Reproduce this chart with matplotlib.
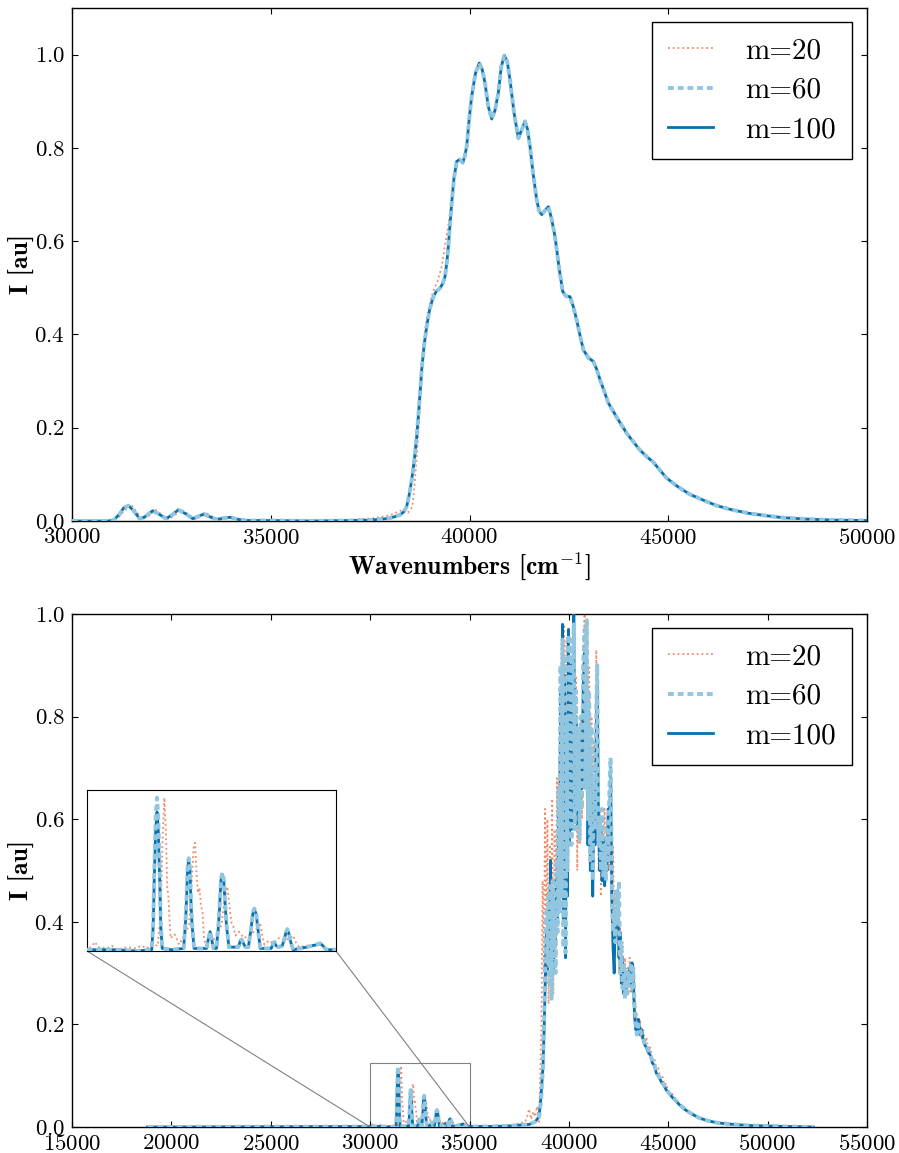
import matplotlib
matplotlib.use('Agg')
import matplotlib.pyplot as plt
from mpl_toolkits.axes_grid1.inset_locator import mark_inset

# ---------------- data ----------------
labels = ['m=20', 'm=60', 'm=100']
colors = ['#f08a68', '#92c5de', '#0571b0']

# top panel (broad spectrum); m=60 and m=100 coincide
top_w = [30000, 30900, 31050, 31200, 31300, 31420, 31550, 31711, 31850, 32030,
         32200, 32365, 32500, 32675, 32850, 33036, 33180, 33321, 33470, 33623,
         33800, 33975, 34200, 34400, 35000, 36000, 37000, 37500, 37800, 38000,
         38252, 38350, 38420, 38480, 38546, 38610, 38672, 38735, 38797, 38860,
         38923, 39000, 39090, 39170, 39258, 39330, 39384, 39430, 39468, 39510,
         39552, 39610, 39678, 39750, 39829, 39880, 39929, 39990, 40055, 40150,
         40247, 40320, 40390, 40470, 40558, 40640, 40725, 40800, 40876, 40950,
         41019, 41120, 41229, 41310, 41396, 41460, 41522, 41600, 41690, 41750,
         41816, 41900, 41983, 42060, 42151, 42250, 42344, 42430, 42528, 42610,
         42696, 42780, 42864, 42990, 43115, 43200, 43283, 43390, 43493, 43720,
         43955, 44120, 44289, 44460, 44625, 44800, 44960, 45250, 45547, 45900,
         46218, 46600, 47057, 47500, 47895, 48500, 49153, 50000]
top_i = [0.0, 0.0, 0.002, 0.015, 0.028, 0.033, 0.022, 0.004, 0.010, 0.022,
         0.014, 0.005, 0.012, 0.024, 0.016, 0.005, 0.010, 0.015, 0.009, 0.003,
         0.006, 0.008, 0.003, 0.001, 0.001, 0.0, 0.001, 0.002, 0.004, 0.006,
         0.013, 0.020, 0.031, 0.055, 0.088, 0.130, 0.181, 0.250, 0.324, 0.378,
         0.417, 0.455, 0.481, 0.493, 0.499, 0.510, 0.524, 0.555, 0.589, 0.636,
         0.682, 0.735, 0.771, 0.775, 0.768, 0.782, 0.803, 0.860, 0.911, 0.960,
         0.982, 0.968, 0.939, 0.890, 0.862, 0.880, 0.918, 0.975, 0.998, 0.985,
         0.946, 0.875, 0.821, 0.838, 0.857, 0.840, 0.803, 0.745, 0.689, 0.665,
         0.657, 0.666, 0.674, 0.650, 0.610, 0.545, 0.492, 0.482, 0.481, 0.460,
         0.431, 0.398, 0.367, 0.350, 0.342, 0.325, 0.303, 0.278, 0.253, 0.220,
         0.188, 0.170, 0.152, 0.138, 0.126, 0.108, 0.092, 0.073, 0.057, 0.044,
         0.033, 0.024, 0.016, 0.011, 0.007, 0.004, 0.002, 0.001]

top20_w = [30000, 31000, 31150, 31300, 31480, 31620, 31780, 31950, 32100, 32280,
           32440, 32600, 32750, 32930, 33100, 33260, 33400, 33560, 33720, 33900,
           34050, 34300, 35000, 36000, 37000, 37600, 38000, 38200, 38350, 38450,
           38560, 38620, 38700, 38760, 38830, 38900, 38960, 39040, 39120, 39200,
           39300, 39400, 39480, 39552, 39610, 39678, 39750, 39829, 39880, 39929,
           39990, 40055, 40150, 40247, 40320, 40390, 40470, 40558, 40640, 40725,
           40800, 40876, 40950, 41019, 41120, 41229, 41310, 41396, 41460, 41522,
           41600, 41690, 41750, 41816, 41900, 41983, 42060, 42151, 42250, 42344,
           42430, 42528, 42610, 42696, 42780, 42864, 42990, 43115, 43200, 43283,
           43390, 43493, 43720, 43955, 44120, 44289, 44460, 44625, 44800, 44960,
           45250, 45547, 45900, 46218, 46600, 47057, 47500, 47895, 48500, 49153,
           50000]
top20_i = [0.0, 0.0, 0.006, 0.020, 0.036, 0.020, 0.004, 0.012, 0.024, 0.012,
           0.004, 0.013, 0.025, 0.014, 0.004, 0.010, 0.016, 0.008, 0.003, 0.006,
           0.008, 0.002, 0.001, 0.001, 0.002, 0.006, 0.012, 0.020, 0.025, 0.018,
           0.030, 0.080, 0.170, 0.260, 0.350, 0.420, 0.450, 0.480, 0.500, 0.515,
           0.545, 0.600, 0.640, 0.690, 0.740, 0.770, 0.776, 0.770, 0.785, 0.808,
           0.865, 0.915, 0.962, 0.980, 0.970, 0.945, 0.895, 0.866, 0.882, 0.920,
           0.972, 0.995, 0.986, 0.950, 0.880, 0.825, 0.840, 0.855, 0.842, 0.806,
           0.748, 0.692, 0.668, 0.660, 0.667, 0.674, 0.652, 0.613, 0.548, 0.495,
           0.484, 0.482, 0.462, 0.433, 0.400, 0.369, 0.352, 0.343, 0.327, 0.305,
           0.280, 0.255, 0.222, 0.190, 0.171, 0.153, 0.139, 0.127, 0.109, 0.093,
           0.074, 0.058, 0.045, 0.034, 0.025, 0.017, 0.011, 0.007, 0.004, 0.002,
           0.001]

# bottom panel (narrow broadening), m=100
bot100_w = [18800, 30000, 30600, 31000, 31300, 31330, 31350, 31380, 31406, 31430,
            31460, 31480, 31510, 31700, 31940, 31975, 31995, 32020, 32042, 32065,
            32090, 32110, 32150, 32400, 32440, 32470, 32500, 32540, 32600, 32640,
            32660, 32690, 32718, 32745, 32780, 32800, 32850, 33040, 33080, 33107,
            33140, 33180, 33240, 33290, 33330, 33361, 33395, 33435, 33480, 33700,
            33740, 33762, 33800, 33840, 33920, 33960, 34000, 34023, 34050, 34090,
            34140, 34411, 34620, 34679, 34740, 34800, 36000, 37000, 37600, 38000,
            38300, 38500, 38600, 38700, 38760, 38820, 38870, 38920, 38970, 39020,
            39080, 39130, 39180, 39230, 39280, 39330, 39380, 39430, 39480, 39530,
            39580, 39630, 39680, 39730, 39780, 39830, 39880, 39930, 39980, 40030,
            40080, 40130, 40190, 40250, 40300, 40360, 40420, 40480, 40540, 40600,
            40660, 40720, 40790, 40850, 40900, 40960, 41020, 41080, 41140, 41200,
            41260, 41320, 41380, 41430, 41490, 41550, 41610, 41670, 41730, 41800,
            41860, 41920, 41980, 42040, 42100, 42160, 42220, 42280, 42340, 42400,
            42460, 42520, 42580, 42640, 42700, 42760, 42820, 42880, 42940, 43000,
            43060, 43120, 43180, 43240, 43300, 43360, 43420, 43500, 43580, 43660,
            43740, 43820, 43900, 44000, 44100, 44200, 44300, 44400, 44500, 44600,
            44700, 44800, 44900, 45000, 45200, 45400, 45600, 45800, 46000, 46300,
            46600, 47000, 47500, 48000, 49000, 50000, 51000, 52300]
bot100_i = [0.0, 0.001, 0.001, 0.0, 0.001, 0.020, 0.055, 0.095, 0.108, 0.095,
            0.055, 0.020, 0.002, 0.001, 0.002, 0.020, 0.036, 0.064, 0.0707, 0.064,
            0.036, 0.020, 0.002, 0.002, 0.010, 0.015, 0.010, 0.002, 0.002, 0.020,
            0.032, 0.055, 0.0595, 0.055, 0.032, 0.020, 0.003, 0.003, 0.008, 0.0085,
            0.006, 0.003, 0.003, 0.016, 0.029, 0.032, 0.029, 0.016, 0.002, 0.002,
            0.006, 0.0065, 0.004, 0.003, 0.004, 0.009, 0.015, 0.016, 0.014, 0.007,
            0.001, 0.003, 0.005, 0.006, 0.004, 0.001, 0.001, 0.002, 0.004, 0.005,
            0.010, 0.020, 0.060, 0.120, 0.200, 0.300, 0.380, 0.300, 0.420, 0.330,
            0.520, 0.300, 0.450, 0.310, 0.420, 0.360, 0.480, 0.400, 0.620, 0.450,
            0.850, 0.500, 0.980, 0.400, 0.880, 0.330, 0.750, 0.450, 0.970, 0.550,
            0.900, 0.580, 0.850, 1.000, 0.620, 0.800, 0.590, 0.700, 0.600, 0.760,
            0.660, 0.850, 0.930, 0.700, 0.820, 0.550, 0.750, 0.500, 0.700, 0.450,
            0.620, 0.550, 0.780, 0.860, 0.600, 0.500, 0.580, 0.480, 0.560, 0.470,
            0.520, 0.500, 0.620, 0.580, 0.700, 0.450, 0.350, 0.300, 0.420, 0.380,
            0.460, 0.330, 0.380, 0.280, 0.330, 0.260, 0.300, 0.270, 0.300, 0.280,
            0.310, 0.280, 0.320, 0.300, 0.220, 0.190, 0.190, 0.210, 0.180, 0.190,
            0.170, 0.160, 0.155, 0.145, 0.140, 0.125, 0.120, 0.105, 0.100, 0.092,
            0.085, 0.080, 0.072, 0.068, 0.058, 0.050, 0.042, 0.035, 0.030, 0.023,
            0.017, 0.012, 0.008, 0.006, 0.003, 0.002, 0.001, 0.0]

# bottom panel, m=60
bot60_w = [18800, 30000, 30600, 31000, 31300, 31330, 31350, 31380, 31406, 31430,
           31460, 31480, 31510, 31700, 31940, 31975, 31995, 32020, 32042, 32065,
           32090, 32110, 32150, 32400, 32440, 32470, 32500, 32540, 32600, 32640,
           32660, 32690, 32718, 32745, 32780, 32800, 32850, 33040, 33080, 33107,
           33140, 33180, 33240, 33290, 33330, 33361, 33395, 33435, 33480, 33700,
           33740, 33762, 33800, 33840, 33920, 33960, 34000, 34023, 34050, 34090,
           34140, 34411, 34620, 34679, 34740, 34800, 36000, 37000, 37600, 38000,
           38300, 38500, 38600, 38700, 38760, 38820, 38870, 38920, 38970, 39020,
           39080, 39130, 39180, 39230, 39280, 39330, 39380, 39430, 39480, 39530,
           39580, 39630, 39680, 39730, 39780, 39830, 39880, 39930, 39980, 40030,
           40080, 40130, 40190, 40250, 40300, 40360, 40420, 40480, 40540, 40600,
           40660, 40720, 40790, 40850, 40900, 40960, 41020, 41080, 41140, 41200,
           41260, 41320, 41380, 41430, 41490, 41550, 41610, 41670, 41730, 41800,
           41860, 41920, 41980, 42040, 42100, 42160, 42220, 42280, 42340, 42400,
           42460, 42520, 42580, 42640, 42700, 42760, 42820, 42880, 42940, 43000,
           43060, 43120, 43180, 43240, 43300, 43360, 43420, 43500, 43580, 43660,
           43740, 43820, 43900, 44000, 44100, 44200, 44300, 44400, 44500, 44600,
           44700, 44800, 44900, 45000, 45200, 45400, 45600, 45800, 46000, 46300,
           46600, 47000, 47500, 48000, 49000, 50000, 51000, 52300]
bot60_i = [0.0, 0.001, 0.001, 0.0, 0.001, 0.022, 0.060, 0.104, 0.119, 0.104,
           0.060, 0.022, 0.002, 0.001, 0.002, 0.021, 0.037, 0.065, 0.072, 0.065,
           0.037, 0.021, 0.002, 0.002, 0.010, 0.015, 0.010, 0.002, 0.002, 0.021,
           0.033, 0.056, 0.061, 0.056, 0.033, 0.021, 0.003, 0.003, 0.008, 0.009,
           0.006, 0.003, 0.003, 0.016, 0.030, 0.033, 0.030, 0.016, 0.002, 0.002,
           0.006, 0.007, 0.004, 0.003, 0.004, 0.009, 0.015, 0.017, 0.015, 0.007,
           0.001, 0.003, 0.005, 0.006, 0.004, 0.001, 0.001, 0.002, 0.004, 0.005,
           0.010, 0.020, 0.050, 0.120, 0.220, 0.330, 0.420, 0.320, 0.450, 0.280,
           0.470, 0.250, 0.480, 0.350, 0.440, 0.300, 0.520, 0.380, 0.660, 0.420,
           0.900, 0.450, 0.950, 0.350, 0.920, 0.340, 0.800, 0.500, 0.960, 0.600,
           0.950, 0.550, 0.920, 0.980, 0.580, 0.850, 0.620, 0.780, 0.560, 0.800,
           0.620, 0.900, 0.970, 0.660, 0.990, 0.600, 0.850, 0.520, 0.780, 0.480,
           0.700, 0.580, 0.820, 0.900, 0.550, 0.600, 0.500, 0.620, 0.490, 0.550,
           0.480, 0.580, 0.520, 0.660, 0.720, 0.500, 0.380, 0.420, 0.360, 0.460,
           0.400, 0.480, 0.300, 0.360, 0.270, 0.320, 0.250, 0.310, 0.260, 0.300,
           0.280, 0.320, 0.270, 0.310, 0.240, 0.210, 0.180, 0.200, 0.190, 0.180,
           0.175, 0.160, 0.160, 0.150, 0.140, 0.128, 0.120, 0.108, 0.100, 0.094,
           0.086, 0.080, 0.074, 0.068, 0.059, 0.051, 0.043, 0.036, 0.030, 0.023,
           0.017, 0.012, 0.008, 0.006, 0.003, 0.002, 0.001, 0.0]

# bottom panel, m=20
bot20_w = [18800, 30000, 30100, 30161, 30220, 30400, 30500, 30600, 30800, 30950,
           31100, 31200, 31300, 31420, 31480, 31520, 31554, 31590, 31610, 31634,
           31650, 31680, 31760, 31850, 31950, 32050, 32110, 32140, 32169, 32200,
           32230, 32256, 32290, 32320, 32350, 32400, 32500, 32600, 32700, 32760,
           32818, 32860, 32900, 32938, 32980, 33050, 33150, 33250, 33350, 33420,
           33474, 33520, 33560, 33650, 33750, 33850, 33950, 34080, 34143, 34200,
           34260, 34400, 34550, 34650, 34750, 34850, 35000, 35500, 36000, 36500,
           37000, 37400, 37800, 37900, 38000, 38100, 38200, 38300, 38400, 38500,
           38560, 38620, 38680, 38740, 38800, 38860, 38920, 38980, 39040, 39100,
           39160, 39220, 39280, 39340, 39400, 39460, 39520, 39580, 39640, 39700,
           39760, 39820, 39880, 39940, 40000, 40060, 40120, 40180, 40240, 40300,
           40360, 40420, 40480, 40540, 40600, 40660, 40720, 40790, 40850, 40900,
           40960, 41020, 41080, 41140, 41200, 41260, 41320, 41380, 41440, 41500,
           41560, 41620, 41680, 41740, 41800, 41860, 41920, 41980, 42040, 42100,
           42160, 42220, 42280, 42340, 42400, 42460, 42520, 42580, 42640, 42700,
           42760, 42820, 42880, 42940, 43000, 43060, 43120, 43180, 43240, 43300,
           43360, 43420, 43500, 43580, 43660, 43740, 43820, 43900, 44000, 44100,
           44200, 44300, 44400, 44500, 44600, 44700, 44800, 44900, 45000, 45200,
           45400, 45600, 45800, 46000, 46300, 46600, 47000, 47500, 48000, 49000,
           50000, 51000, 52300]
bot20_i = [0.0, 0.001, 0.004, 0.007, 0.003, 0.002, 0.004, 0.001, 0.003, 0.002,
           0.004, 0.002, 0.005, 0.004, 0.030, 0.090, 0.119, 0.085, 0.050, 0.042,
           0.030, 0.010, 0.013, 0.005, 0.012, 0.020, 0.060, 0.080, 0.084, 0.060,
           0.045, 0.049, 0.035, 0.030, 0.010, 0.002, 0.006, 0.012, 0.020, 0.040,
           0.050, 0.035, 0.022, 0.019, 0.012, 0.015, 0.010, 0.012, 0.015, 0.018,
           0.022, 0.012, 0.005, 0.008, 0.006, 0.010, 0.008, 0.010, 0.012, 0.006,
           0.003, 0.004, 0.005, 0.006, 0.004, 0.001, 0.002, 0.001, 0.002, 0.002,
           0.003, 0.006, 0.010, 0.020, 0.035, 0.015, 0.030, 0.020, 0.040, 0.010,
           0.100, 0.200, 0.480, 0.300, 0.620, 0.350, 0.600, 0.240, 0.550, 0.320,
           0.640, 0.260, 0.580, 0.400, 0.680, 0.500, 0.720, 0.550, 0.960, 0.450,
           0.980, 0.420, 0.950, 0.500, 0.970, 0.550, 0.920, 0.600, 0.960, 0.650,
           0.880, 0.500, 0.750, 0.550, 0.800, 0.600, 0.900, 1.000, 0.700, 0.990,
           0.620, 0.900, 0.500, 0.800, 0.550, 0.750, 0.600, 0.930, 0.700, 0.500,
           0.620, 0.450, 0.600, 0.500, 0.620, 0.480, 0.560, 0.600, 0.500, 0.620,
           0.400, 0.550, 0.420, 0.460, 0.360, 0.440, 0.300, 0.400, 0.280, 0.360,
           0.260, 0.330, 0.270, 0.310, 0.260, 0.330, 0.260, 0.300, 0.240, 0.260,
           0.200, 0.220, 0.190, 0.210, 0.170, 0.190, 0.160, 0.175, 0.150, 0.155,
           0.130, 0.135, 0.110, 0.115, 0.095, 0.100, 0.082, 0.085, 0.070, 0.065,
           0.052, 0.045, 0.037, 0.031, 0.024, 0.018, 0.013, 0.009, 0.006, 0.003,
           0.002, 0.001, 0.0]

top_xticks = [30000, 35000, 40000, 45000, 50000]
bot_xticks = [15000, 20000, 25000, 30000, 35000, 40000, 45000, 50000, 55000]
yticks = [0.0, 0.2, 0.4, 0.6, 0.8, 1.0]

# ---------------- style ----------------
plt.rcParams['font.family'] = ['cmr10', 'DejaVu Serif']
plt.rcParams['mathtext.fontset'] = 'cm'
plt.rcParams['axes.formatter.use_mathtext'] = True
plt.rcParams['axes.unicode_minus'] = False

# m=20 dotted at the back, m=60 dashes laid over the solid m=100 line
line_kw = [dict(ls=':', lw=1.3, zorder=2),
           dict(ls='--', lw=2.8, dashes=(1.5, 1.0), zorder=4),
           dict(ls='-', lw=2.0, zorder=3)]


def style_axes(ax):
    ax.tick_params(direction='in', top=True, right=True, length=4, width=0.8,
                   labelsize=16.5, pad=5)
    for sp in ax.spines.values():
        sp.set_linewidth(1.0)


def draw_lines(ax, series):
    for (w, i), lab, c, kw in zip(series, labels, colors, line_kw):
        ax.plot(w, i, color=c, label=lab, **kw)


def add_legend(ax):
    leg = ax.legend(loc='upper right', bbox_to_anchor=(0.981, 0.973),
                    borderaxespad=0., fontsize=21, fancybox=False, framealpha=1,
                    edgecolor='k', handlelength=1.55, handletextpad=1.1,
                    labelspacing=0.45, borderpad=0.55)
    leg.get_frame().set_linewidth(1.0)
    leg.set_zorder(10)


fig = plt.figure(figsize=(8.99, 11.53), dpi=100)

# top panel
ax1 = fig.add_axes([72 / 899, 1 - 521 / 1153, 795 / 899, 513 / 1153])
draw_lines(ax1, [(top20_w, top20_i), (top_w, top_i), (top_w, top_i)])
ax1.set_xlim(30000, 50000)
ax1.set_ylim(0, 1.1)
ax1.set_xticks(top_xticks)
ax1.set_yticks(yticks)
ax1.set_xlabel(r'Wavenumbers [cm$^{-1}$]', fontfamily='cmb10', fontsize=18.5,
               labelpad=2)
ax1.set_ylabel('I [au]', fontfamily='cmb10', fontsize=18.5)
ax1.yaxis.set_label_coords(-0.046, 0.5)
style_axes(ax1)
add_legend(ax1)

# bottom panel
bottom_series = [(bot20_w, bot20_i), (bot60_w, bot60_i), (bot100_w, bot100_i)]
ax2 = fig.add_axes([72 / 899, 1 - 1127 / 1153, 795 / 899, 513 / 1153])
draw_lines(ax2, bottom_series)
ax2.set_xlim(15000, 55000)
ax2.set_ylim(0, 1.0)
ax2.set_xticks(bot_xticks)
ax2.set_yticks(yticks)
ax2.set_ylabel('I [au]', fontfamily='cmb10', fontsize=18.5)
ax2.yaxis.set_label_coords(-0.046, 0.5)
style_axes(ax2)
add_legend(ax2)

# zoomed inset of the low-energy progression
axin = fig.add_axes([87 / 899, 1 - 951 / 1153, 249 / 899, 161 / 1153])
draw_lines(axin, bottom_series)
axin.set_xlim(30000, 35000)
axin.set_ylim(0, 0.125)
axin.set_xticks([])
axin.set_yticks([])
mark_inset(ax2, axin, loc1=3, loc2=4, fc='none', ec='0.5', lw=0.8)

fig.savefig('out.png', dpi=100)
